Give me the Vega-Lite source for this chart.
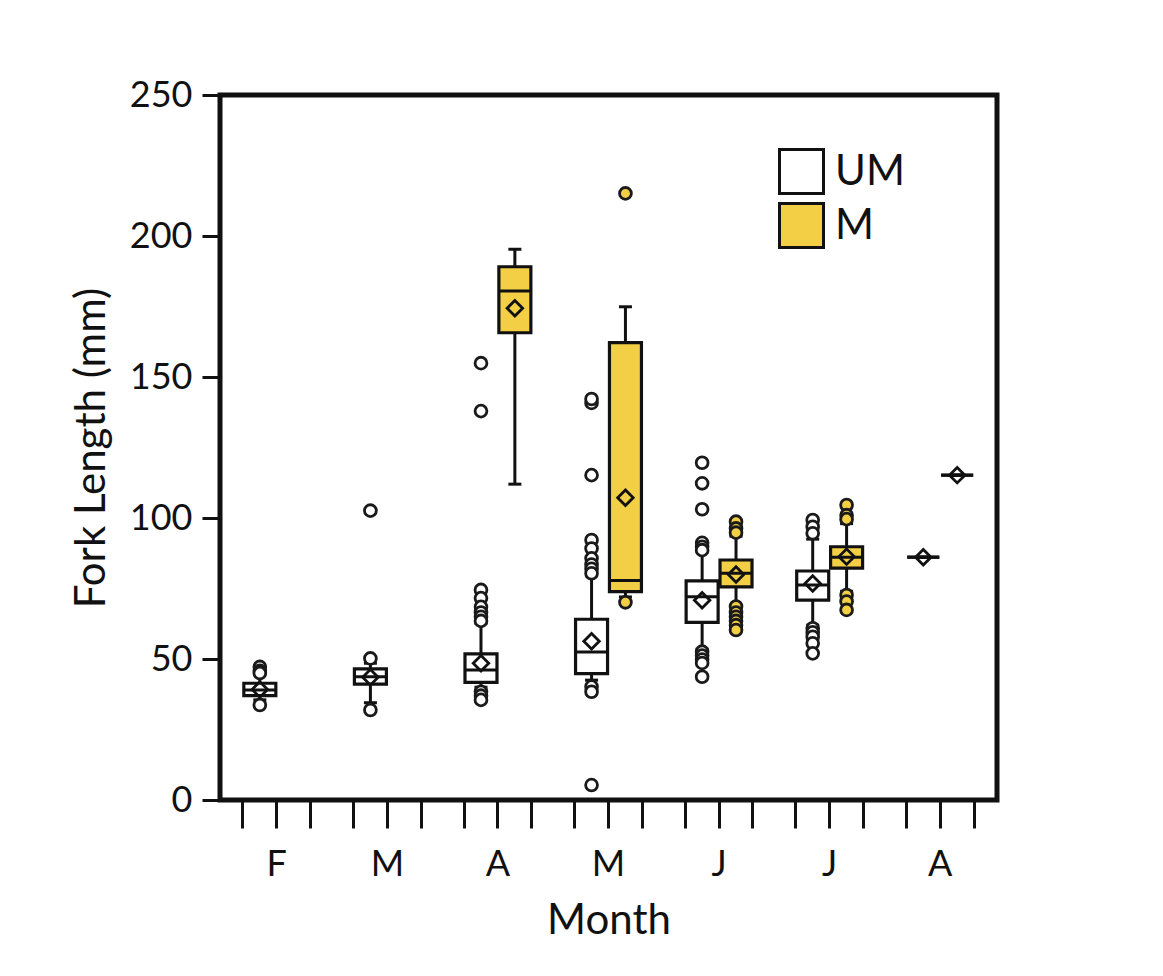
{
  "$schema": "https://vega.github.io/schema/vega-lite/v6.json",
  "width": 777,
  "height": 705,
  "autosize": "none",
  "padding": {"left": 220, "top": 95, "right": 166, "bottom": 176},
  "background": "white",
  "config": {
    "font": "Lato",
    "view": {"stroke": "#111111", "strokeWidth": 5},
    "axis": {"labelColor": "#111111", "titleColor": "#111111", "titleFontWeight": "normal", "grid": false}
  },
  "datasets": {
    "boxes": [
      {"month": "Feb", "group": "UM", "lower": 35.5, "q1": 37, "median": 39, "q3": 41.4, "upper": 44.5, "mean": 39.2},
      {"month": "Mar", "group": "UM", "lower": 34.5, "q1": 41.1, "median": 43.7, "q3": 46.5, "upper": 48.5, "mean": 43.5},
      {"month": "Apr", "group": "UM", "lower": 40, "q1": 41.7, "median": 46.1, "q3": 51.8, "upper": 62.7, "mean": 48.5},
      {"month": "Apr", "group": "M", "lower": 112, "q1": 165.7, "median": 180.5, "q3": 189.1, "upper": 195.3, "mean": 174.4},
      {"month": "May", "group": "UM", "lower": 42.5, "q1": 44.8, "median": 52.5, "q3": 64.1, "upper": 79.5, "mean": 56.3},
      {"month": "May", "group": "M", "lower": 72, "q1": 73.9, "median": 77.8, "q3": 162.2, "upper": 174.9, "mean": 107.2},
      {"month": "Jun", "group": "UM", "lower": 53.5, "q1": 63, "median": 72.1, "q3": 77.7, "upper": 88, "mean": 70.8},
      {"month": "Jun", "group": "M", "lower": 69, "q1": 75.6, "median": 80.4, "q3": 85.1, "upper": 93.5, "mean": 80},
      {"month": "Jul", "group": "UM", "lower": 62, "q1": 70.9, "median": 76.2, "q3": 81.2, "upper": 92.5, "mean": 76.8},
      {"month": "Jul", "group": "M", "lower": 74, "q1": 82.2, "median": 86.1, "q3": 89.8, "upper": 98, "mean": 86.3},
      {"month": "Aug", "group": "UM", "lower": 86.1, "q1": 86.1, "median": 86.1, "q3": 86.1, "upper": 86.1, "mean": 86.1},
      {"month": "Aug", "group": "M", "lower": 115.2, "q1": 115.2, "median": 115.2, "q3": 115.2, "upper": 115.2, "mean": 115.2}
    ],
    "outliers": [
      {"month": "Feb", "group": "UM", "value": 47.2},
      {"month": "Feb", "group": "UM", "value": 45.8},
      {"month": "Feb", "group": "UM", "value": 45.0},
      {"month": "Feb", "group": "UM", "value": 33.7},
      {"month": "Mar", "group": "UM", "value": 50.2},
      {"month": "Mar", "group": "UM", "value": 31.9},
      {"month": "Mar", "group": "UM", "value": 102.6},
      {"month": "Apr", "group": "UM", "value": 74.5},
      {"month": "Apr", "group": "UM", "value": 71.6},
      {"month": "Apr", "group": "UM", "value": 68.5},
      {"month": "Apr", "group": "UM", "value": 66.5},
      {"month": "Apr", "group": "UM", "value": 65.0},
      {"month": "Apr", "group": "UM", "value": 63.5},
      {"month": "Apr", "group": "UM", "value": 38.4},
      {"month": "Apr", "group": "UM", "value": 37.0},
      {"month": "Apr", "group": "UM", "value": 35.5},
      {"month": "Apr", "group": "UM", "value": 137.9},
      {"month": "Apr", "group": "UM", "value": 154.9},
      {"month": "May", "group": "UM", "value": 92.2},
      {"month": "May", "group": "UM", "value": 89.2},
      {"month": "May", "group": "UM", "value": 85.7},
      {"month": "May", "group": "UM", "value": 83.5},
      {"month": "May", "group": "UM", "value": 82.0},
      {"month": "May", "group": "UM", "value": 80.4},
      {"month": "May", "group": "UM", "value": 115.2},
      {"month": "May", "group": "UM", "value": 140.8},
      {"month": "May", "group": "UM", "value": 142.2},
      {"month": "May", "group": "UM", "value": 40.2},
      {"month": "May", "group": "UM", "value": 38.4},
      {"month": "May", "group": "UM", "value": 5.3},
      {"month": "May", "group": "M", "value": 70.1},
      {"month": "May", "group": "M", "value": 215.1},
      {"month": "Jun", "group": "UM", "value": 91.2},
      {"month": "Jun", "group": "UM", "value": 89.8},
      {"month": "Jun", "group": "UM", "value": 88.6},
      {"month": "Jun", "group": "UM", "value": 103.1},
      {"month": "Jun", "group": "UM", "value": 112.3},
      {"month": "Jun", "group": "UM", "value": 119.6},
      {"month": "Jun", "group": "UM", "value": 52.6},
      {"month": "Jun", "group": "UM", "value": 51.2},
      {"month": "Jun", "group": "UM", "value": 49.8},
      {"month": "Jun", "group": "UM", "value": 48.6},
      {"month": "Jun", "group": "UM", "value": 43.7},
      {"month": "Jun", "group": "M", "value": 98.7},
      {"month": "Jun", "group": "M", "value": 96.3},
      {"month": "Jun", "group": "M", "value": 94.8},
      {"month": "Jun", "group": "M", "value": 68.6},
      {"month": "Jun", "group": "M", "value": 66.5},
      {"month": "Jun", "group": "M", "value": 65.0},
      {"month": "Jun", "group": "M", "value": 63.5},
      {"month": "Jun", "group": "M", "value": 62.0},
      {"month": "Jun", "group": "M", "value": 60.3},
      {"month": "Jul", "group": "UM", "value": 99.3},
      {"month": "Jul", "group": "UM", "value": 96.9},
      {"month": "Jul", "group": "UM", "value": 94.6},
      {"month": "Jul", "group": "UM", "value": 60.9},
      {"month": "Jul", "group": "UM", "value": 59.5},
      {"month": "Jul", "group": "UM", "value": 57.9},
      {"month": "Jul", "group": "UM", "value": 55.6},
      {"month": "Jul", "group": "UM", "value": 52.0},
      {"month": "Jul", "group": "M", "value": 104.6},
      {"month": "Jul", "group": "M", "value": 101.0},
      {"month": "Jul", "group": "M", "value": 99.6},
      {"month": "Jul", "group": "M", "value": 72.7},
      {"month": "Jul", "group": "M", "value": 70.4},
      {"month": "Jul", "group": "M", "value": 67.4}
    ]
  },
  "layer": [
    {
      "encoding": {
        "x": {"field": "month", "type": "ordinal", "scale": {"type": "band", "domain": ["Feb", "Mar", "Apr", "May", "Jun", "Jul", "Aug"], "paddingInner": 0.387, "paddingOuter": 0.207}, "axis": null},
        "xOffset": {"field": "group", "type": "nominal", "scale": {"type": "band", "domain": ["UM", "M"], "paddingInner": 0, "paddingOuter": 0}}
      },
      "layer": [
        {
          "data": {"name": "boxes"},
          "mark": {"type": "rule", "stroke": "#111111", "strokeWidth": 3},
          "encoding": {
            "y": {"field": "lower", "type": "quantitative", "title": "Fork Length (mm)", "scale": {"domain": [0, 250], "nice": false},
                  "axis": {"values": [0, 50, 100, 150, 200, 250], "domain": false, "tickSize": 18, "tickWidth": 3, "tickColor": "#111111", "labelFontSize": 36, "labelPadding": 10, "titleFontSize": 42, "titlePadding": 16}},
            "y2": {"field": "upper"}
          }
        },
        {
          "data": {"name": "boxes"},
          "mark": {"type": "tick", "size": 13, "thickness": 3, "color": "#111111", "opacity": 1},
          "encoding": {"y": {"field": "lower", "type": "quantitative", "title": "Fork Length (mm)"}}
        },
        {
          "data": {"name": "boxes"},
          "mark": {"type": "tick", "size": 13, "thickness": 3, "color": "#111111", "opacity": 1},
          "encoding": {"y": {"field": "upper", "type": "quantitative", "title": "Fork Length (mm)"}}
        },
        {
          "data": {"name": "boxes"},
          "mark": {"type": "bar", "width": 32, "stroke": "#111111", "strokeWidth": 3.2, "opacity": 1},
          "encoding": {
            "y": {"field": "q1", "type": "quantitative", "title": "Fork Length (mm)"},
            "y2": {"field": "q3"},
            "fill": {"field": "group", "type": "nominal", "scale": {"domain": ["UM", "M"], "range": ["#ffffff", "#f2cf45"]},
                     "legend": {"title": null, "orient": "none", "legendX": 558, "legendY": 53, "padding": 0, "symbolType": "square", "symbolSize": 1936, "symbolStrokeColor": "#111111", "symbolStrokeWidth": 3, "symbolOpacity": 1, "labelFontSize": 42, "labelColor": "#111111", "labelOffset": 10, "rowPadding": -3}}
          }
        },
        {
          "data": {"name": "boxes"},
          "mark": {"type": "tick", "size": 32, "thickness": 3, "color": "#111111", "opacity": 1},
          "encoding": {"y": {"field": "median", "type": "quantitative", "title": "Fork Length (mm)"}}
        },
        {
          "data": {"name": "boxes"},
          "mark": {"type": "point", "shape": "diamond", "size": 240, "filled": false, "stroke": "#111111", "strokeWidth": 2.8, "opacity": 1},
          "encoding": {"y": {"field": "mean", "type": "quantitative", "title": "Fork Length (mm)"}}
        },
        {
          "data": {"name": "outliers"},
          "mark": {"type": "point", "shape": "circle", "size": 140, "filled": true, "stroke": "#1a1a1a", "strokeWidth": 2.8, "opacity": 1},
          "encoding": {
            "y": {"field": "value", "type": "quantitative", "title": "Fork Length (mm)"},
            "fill": {"field": "group", "type": "nominal", "legend": null}
          }
        }
      ]
    },
    {
      "data": {"name": "boxes"},
      "mark": {"type": "point", "opacity": 0},
      "encoding": {
        "x": {"field": "month", "type": "ordinal", "scale": {"type": "band"},
              "axis": {"orient": "bottom", "bandPosition": 0, "labels": false, "domain": false, "ticks": true, "tickSize": 28, "tickWidth": 3, "tickColor": "#111111", "title": null}}
      }
    },
    {
      "data": {"name": "boxes"},
      "mark": {"type": "point", "opacity": 0},
      "encoding": {
        "x": {"field": "month", "type": "ordinal", "scale": {"type": "band"},
              "axis": {"orient": "bottom", "bandPosition": 0.5, "labels": true, "labelExpr": "substring(datum.value, 0, 1)", "labelAngle": 0, "labelFontSize": 36, "labelPadding": 19, "domain": false, "ticks": true, "tickSize": 28, "tickWidth": 3, "tickColor": "#111111", "title": "Month", "titleFontSize": 42, "titlePadding": 18}}
      }
    },
    {
      "data": {"name": "boxes"},
      "mark": {"type": "point", "opacity": 0},
      "encoding": {
        "x": {"field": "month", "type": "ordinal", "scale": {"type": "band"},
              "axis": {"orient": "bottom", "bandPosition": 1, "labels": false, "domain": false, "ticks": true, "tickSize": 28, "tickWidth": 3, "tickColor": "#111111", "title": null}}
      }
    }
  ],
  "resolve": {"axis": {"x": "independent"}}
}
